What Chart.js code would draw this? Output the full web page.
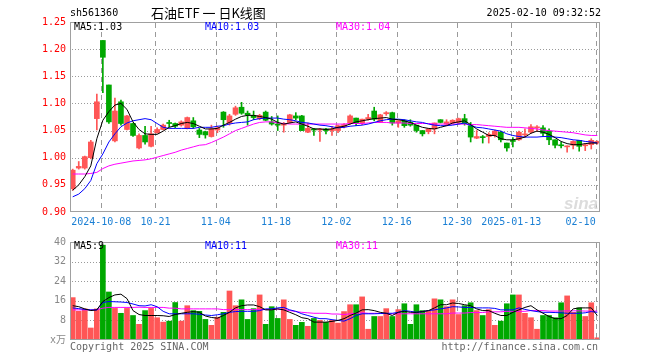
<!DOCTYPE html>
<html><head><meta charset="utf-8">
<script src="https://cdn.jsdelivr.net/npm/chart.js@4.4.1/dist/chart.umd.min.js"></script>
<style>
html,body{margin:0;padding:0;background:#fff;width:660px;height:360px;overflow:hidden}
canvas{position:absolute;left:0}
#pc{top:0}
#vc{top:232px}
</style></head><body>
<canvas id="pc" width="660" height="232"></canvas>
<canvas id="vc" width="660" height="128"></canvas>
<script>
// ---------- data ----------
const symbol = 'sh561360';
const title = '石油ETF 一 日K线图';
const stamp = '2025-02-10 09:32:52';
const tickIdx = [5,14,24,34,44,54,64,73,87];
const tickLabels = ['2024-10-08','10-21','11-04','11-18','12-02','12-16','12-30','2025-01-13','02-10'];
const priceTicks = [0.90,0.95,1.00,1.05,1.10,1.15,1.20,1.25];
const volTicks = [0,8,16,24,32,40];
const volUnit = 'x万';
const legendPrice = ['MA5:1.03','MA10:1.03','MA30:1.04'];
const legendVol = ['MA5:9','MA10:11','MA30:11'];

const opens = [0.943,0.981,0.981,1.000,1.072,1.216,1.134,1.031,1.103,1.052,
1.063,1.018,1.041,1.021,1.046,1.052,1.064,1.063,1.060,1.054,
1.068,1.051,1.048,1.039,1.051,1.084,1.064,1.080,1.093,1.082,
1.078,1.072,1.084,1.066,1.062,1.060,1.065,1.077,1.077,1.047,
1.053,1.051,1.053,1.050,1.050,1.057,1.064,1.073,1.064,1.071,
1.086,1.066,1.081,1.083,1.064,1.068,1.065,1.060,1.050,1.048,
1.053,1.070,1.062,1.064,1.065,1.072,1.059,1.036,1.038,1.039,
1.041,1.047,1.027,1.031,1.033,1.042,1.047,1.055,1.055,1.049,
1.033,1.023,1.020,1.023,1.032,1.022,1.024,1.027];
const highs = [0.979,0.993,1.003,1.032,1.117,1.216,1.134,1.110,1.106,1.078,
1.064,1.044,1.058,1.058,1.055,1.062,1.069,1.064,1.068,1.075,
1.074,1.054,1.049,1.060,1.058,1.085,1.080,1.095,1.102,1.086,
1.086,1.080,1.086,1.076,1.077,1.065,1.080,1.083,1.078,1.064,
1.054,1.054,1.054,1.058,1.060,1.063,1.079,1.073,1.071,1.080,
1.093,1.080,1.085,1.084,1.068,1.070,1.070,1.060,1.050,1.054,
1.064,1.070,1.070,1.070,1.073,1.080,1.065,1.050,1.041,1.046,
1.051,1.049,1.027,1.037,1.049,1.053,1.061,1.059,1.059,1.053,
1.033,1.029,1.022,1.031,1.032,1.026,1.035,1.031];
const lows = [0.940,0.979,0.979,0.998,1.051,1.120,1.063,1.029,1.060,1.051,
1.039,1.016,1.025,1.020,1.045,1.051,1.057,1.055,1.058,1.053,
1.054,1.037,1.036,1.038,1.046,1.056,1.060,1.078,1.080,1.060,
1.070,1.070,1.068,1.060,1.050,1.047,1.064,1.070,1.050,1.046,
1.041,1.030,1.044,1.041,1.046,1.055,1.062,1.059,1.061,1.069,
1.068,1.065,1.078,1.060,1.056,1.056,1.058,1.047,1.040,1.044,
1.044,1.064,1.060,1.062,1.062,1.060,1.029,1.035,1.027,1.027,
1.038,1.029,1.012,1.020,1.032,1.038,1.045,1.049,1.039,1.024,
1.018,1.018,1.010,1.016,1.012,1.013,1.016,1.025];
const closes = [0.977,0.984,1.002,1.029,1.103,1.185,1.066,1.086,1.063,1.077,
1.041,1.041,1.029,1.044,1.052,1.060,1.063,1.058,1.066,1.074,
1.057,1.043,1.042,1.053,1.055,1.070,1.077,1.092,1.082,1.079,
1.074,1.078,1.069,1.062,1.060,1.062,1.079,1.073,1.050,1.054,
1.051,1.053,1.050,1.053,1.059,1.061,1.077,1.064,1.071,1.074,
1.071,1.079,1.083,1.064,1.068,1.059,1.060,1.050,1.044,1.053,
1.064,1.065,1.066,1.069,1.072,1.063,1.038,1.039,1.037,1.043,
1.049,1.033,1.018,1.030,1.047,1.043,1.057,1.056,1.045,1.033,
1.023,1.022,1.021,1.030,1.021,1.023,1.032,1.030];
const ma5 = [0.940,0.950,0.965,0.985,1.035,1.069,1.085,1.097,1.100,1.089,
1.066,1.052,1.044,1.043,1.043,1.049,1.056,1.059,1.063,1.065,
1.063,1.058,1.053,1.053,1.054,1.060,1.065,1.071,1.076,1.078,
1.078,1.076,1.074,1.071,1.065,1.062,1.064,1.066,1.062,1.058,
1.053,1.053,1.052,1.053,1.056,1.058,1.062,1.066,1.068,1.070,
1.072,1.073,1.074,1.071,1.070,1.068,1.065,1.060,1.056,1.054,
1.053,1.056,1.059,1.064,1.066,1.068,1.061,1.053,1.047,1.041,
1.041,1.035,1.033,1.033,1.035,1.038,1.045,1.049,1.047,1.043,
1.037,1.030,1.026,1.024,1.024,1.026,1.027,1.027];
const ma10 = [0.928,0.933,0.943,0.958,0.989,1.007,1.029,1.044,1.057,1.064,
1.068,1.070,1.072,1.070,1.063,1.056,1.054,1.054,1.054,1.054,
1.054,1.056,1.056,1.056,1.058,1.059,1.062,1.064,1.065,1.066,
1.070,1.072,1.073,1.073,1.073,1.071,1.070,1.068,1.065,1.064,
1.062,1.060,1.059,1.057,1.055,1.056,1.058,1.059,1.060,1.062,
1.065,1.068,1.070,1.071,1.071,1.070,1.068,1.066,1.065,1.062,
1.060,1.059,1.059,1.060,1.062,1.064,1.059,1.056,1.055,1.053,
1.051,1.049,1.044,1.041,1.039,1.038,1.038,1.038,1.039,1.039,
1.038,1.037,1.035,1.033,1.032,1.030,1.029,1.027];
const ma30 = [0.970,0.970,0.970,0.971,0.973,0.980,0.985,0.988,0.990,0.992,
0.994,0.995,0.996,0.998,1.001,1.004,1.007,1.010,1.014,1.017,
1.020,1.023,1.024,1.028,1.033,1.038,1.044,1.050,1.054,1.058,
1.062,1.065,1.066,1.066,1.064,1.063,1.062,1.062,1.062,1.062,
1.062,1.062,1.062,1.062,1.062,1.062,1.063,1.063,1.063,1.064,
1.065,1.065,1.065,1.064,1.064,1.064,1.063,1.063,1.063,1.063,
1.062,1.062,1.062,1.062,1.062,1.062,1.061,1.061,1.060,1.059,
1.058,1.057,1.056,1.056,1.056,1.055,1.054,1.053,1.051,1.050,
1.049,1.048,1.047,1.046,1.044,1.042,1.041,1.041];
const vols = [17.3,11.7,12.7,4.9,12.7,38.7,19.6,12.9,10.9,12.9,
10.0,6.4,12.0,12.9,9.1,7.3,7.7,15.3,7.7,14.0,
12.0,11.7,8.4,6.0,9.3,11.3,20.0,14.0,16.4,8.4,
12.8,18.4,6.4,13.6,8.8,16.4,8.4,6.0,7.2,5.6,
8.8,8.0,7.2,8.0,6.9,11.6,14.4,14.4,17.6,4.4,
9.6,9.6,12.8,9.6,12.4,14.8,6.4,14.4,12.0,12.0,
16.8,16.4,13.6,16.4,10.4,14.0,15.2,12.0,10.0,12.4,
6.0,7.7,14.8,18.4,18.4,10.9,9.1,4.4,10.0,10.0,
9.1,15.2,18.0,11.3,13.1,9.6,15.2,0.9];
const vma5 = [14.0,13.6,12.7,12.0,12.3,15.7,17.3,18.4,18.7,16.9,
12.0,10.4,10.0,10.0,10.0,9.9,9.6,10.4,10.9,11.3,
11.6,11.3,9.8,9.2,8.9,10.0,11.3,13.1,14.0,14.3,
14.3,13.6,12.3,12.3,12.7,12.3,11.3,10.3,9.1,8.7,
7.3,7.3,7.3,7.6,8.0,8.7,10.0,11.0,12.3,12.4,
12.0,11.3,10.9,10.0,11.3,11.7,11.3,11.3,11.6,12.0,
13.1,14.4,14.4,15.1,14.9,14.4,14.0,12.7,12.0,12.0,
10.9,10.0,10.0,11.3,12.3,13.3,14.0,12.3,10.9,9.6,
8.7,8.7,10.0,12.7,13.1,13.1,13.1,10.0];
const vma10 = [13.1,12.8,12.5,12.3,12.3,15.3,15.7,15.6,15.5,15.3,
14.7,14.0,13.9,14.4,13.6,11.7,10.7,10.7,10.7,10.7,
10.7,10.5,10.2,10.0,10.3,10.7,11.3,11.6,11.7,11.7,
11.7,12.0,12.7,12.7,13.1,13.3,12.3,11.7,10.7,10.0,
9.3,8.7,8.7,8.3,8.0,7.7,8.7,10.0,10.7,10.7,
10.7,10.8,10.9,10.9,11.3,12.0,11.7,11.3,11.6,12.0,
12.3,12.7,13.1,13.6,13.5,13.3,13.3,13.1,13.1,13.1,
12.9,12.3,12.3,12.3,13.1,12.5,12.0,11.6,11.3,11.3,
11.2,11.1,10.9,10.9,10.9,11.1,11.6,11.3];
const vma30 = [12.3,12.3,12.3,12.3,12.3,13.0,13.3,13.3,13.3,13.3,
13.3,13.4,13.3,13.3,13.3,13.3,13.0,13.0,12.7,12.7,
12.7,12.7,12.7,12.7,12.7,12.4,12.4,12.4,12.4,12.4,
12.4,12.4,12.4,12.4,12.6,12.4,12.0,11.6,11.3,11.1,
10.9,10.9,10.9,10.6,10.6,10.4,10.7,10.9,11.1,10.9,
10.9,10.9,10.7,10.7,10.7,10.7,10.7,10.7,10.7,10.7,
10.7,10.7,10.7,11.0,11.0,11.0,11.2,11.2,11.2,11.5,
11.5,11.5,11.7,11.7,11.7,11.7,12.0,12.0,12.0,11.8,
11.8,11.8,11.9,11.9,11.9,11.8,11.8,11.8];

// ---------- style ----------
const RED = '#ff5656', GREEN = '#00a800';
const C5 = '#000000', C10 = '#0000ff', C30 = '#ff00ff';
const GRID = '#9a9a9a';
const MONO = "'DejaVu Sans Mono','Liberation Mono',monospace";
Chart.defaults.font.family = MONO;
Chart.defaults.font.size = 10;

const idx = opens.map((_, i) => i);
const colorOf = i => (closes[i] >= opens[i] ? RED : GREEN);
const pts = arr => arr.map((v, i) => ({x: i, y: v}));
const line = (arr, color) => ({type: 'line', data: pts(arr), borderColor: color, borderWidth: 1,
  pointRadius: 0, tension: 0, fill: false, order: 0});
// last label pushed left so that it ends at its tick, as in the original
const shownLabel = i => (i === tickLabels.length - 1 ? tickLabels[i] + '     ' : tickLabels[i]);
const X_SHIFT = -0.27;

function xScale(showLabels) {
  return {
    type: 'linear', min: -0.45, max: 87.45, bounds: 'data', offset: false,
    afterBuildTicks: s => { s.ticks = tickIdx.map(v => ({value: v + X_SHIFT})); },
    afterFit: s => { s.height = 20; },
    grid: {display: false, drawTicks: false, offset: false},
    border: {display: false},
    ticks: {display: showLabels, autoSkip: false, maxRotation: 0, padding: 4,
      color: '#1a7fd4', callback: (v, i) => shownLabel(i)}
  };
}

// grid (positions from the chart's scales), painted underneath what is already drawn; frame on top
function drawGrid(chart, yVals) {
  const ctx = chart.ctx;
  const a = chart.chartArea;
  const xs = chart.scales.x, ys = chart.scales.y;
  const L = Math.round(a.left), R = Math.round(a.right), T = Math.round(a.top), B = Math.round(a.bottom);
  ctx.save();
  ctx.globalCompositeOperation = 'destination-over';
  ctx.fillStyle = GRID;
  for (const v of yVals) {
    const y = Math.round(ys.getPixelForValue(v));
    if (!(y > T + 1 && y < B - 1)) continue;
    for (let x = L + 2; x < R - 1; x += 3) ctx.fillRect(x, y, 1, 1);
  }
  for (const v of tickIdx) {
    const x = Math.round(xs.getPixelForValue(v + X_SHIFT));
    if (!(x > L && x < R - 1)) continue;
    for (let y = T + 1; y < B - 1; y += 9) ctx.fillRect(x, y, 1, Math.min(5, B - 1 - y));
  }
  ctx.restore();
  ctx.save();
  ctx.strokeStyle = '#a0a0a0';
  ctx.lineWidth = 1;
  ctx.strokeRect(L + 0.5, T + 0.5, R - L - 1, B - T - 1);
  ctx.restore();
}

function drawLegend(ctx, texts, y) {
  const xs = [74, 205, 336];
  const cols = [C5, C10, C30];
  ctx.font = '10px ' + MONO;
  ctx.textBaseline = 'middle';
  ctx.textAlign = 'left';
  texts.forEach((t, k) => { ctx.fillStyle = cols[k]; ctx.fillText(t, xs[k], y); });
}

const pricePlugin = {
  id: 'priceDeco',
  afterDraw(chart) {
    const {ctx} = chart;
    ctx.save();
    ctx.globalCompositeOperation = 'destination-over';
    ctx.font = "italic bold 17px 'Liberation Sans', Arial, sans-serif";
    ctx.fillStyle = '#dcdcdc';
    ctx.textAlign = 'right';
    ctx.textBaseline = 'alphabetic';
    ctx.fillText('sina', 598, 209);
    ctx.restore();
    drawGrid(chart, priceTicks);
    ctx.save();
    ctx.fillStyle = '#000';
    ctx.textBaseline = 'middle';
    ctx.font = '10px ' + MONO;
    ctx.textAlign = 'left';
    ctx.fillText(symbol, 70, 13);
    ctx.font = "13px 'Noto Sans CJK SC', sans-serif";
    ctx.fillText(title, 151, 13);
    ctx.font = '10px ' + MONO;
    ctx.textAlign = 'right';
    ctx.fillText(stamp, 601, 13);
    drawLegend(ctx, legendPrice, 27);
    ctx.restore();
  }
};

const volPlugin = {
  id: 'volDeco',
  afterDraw(chart) {
    drawGrid(chart, volTicks);
    const {ctx} = chart;
    ctx.save();
    drawLegend(ctx, legendVol, 14);
    ctx.fillStyle = '#666';
    ctx.font = '10px ' + MONO;
    ctx.textBaseline = 'middle';
    ctx.textAlign = 'left';
    ctx.fillText('Copyright 2025 SINA.COM', 70, 115);
    ctx.textAlign = 'right';
    ctx.fillText('http://finance.sina.com.cn', 598, 115);
    ctx.restore();
  }
};

new Chart(document.getElementById('pc'), {
  type: 'bar',
  data: {datasets: [
    line(ma5, C5), line(ma10, C10), line(ma30, C30),
    {type: 'bar', data: idx.map(i => ({x: i, y: [opens[i], closes[i]]})),
      backgroundColor: idx.map(colorOf), borderWidth: 0, barThickness: 5,
      grouped: false, minBarLength: 1, order: 5},
    {type: 'bar', data: idx.map(i => ({x: i, y: [lows[i], highs[i]]})),
      backgroundColor: idx.map(colorOf), borderWidth: 0, barThickness: 1,
      grouped: false, minBarLength: 1, order: 6}
  ]},
  options: {
    responsive: false, animation: false, devicePixelRatio: 1,
    layout: {padding: {left: 0, right: 60, top: 22, bottom: 0}},
    plugins: {legend: {display: false}, tooltip: {enabled: false}},
    scales: {
      x: xScale(true),
      y: {min: 0.9, max: 1.25, bounds: 'data',
        afterBuildTicks: s => { s.ticks = priceTicks.map(v => ({value: v})); },
        afterFit: s => { s.width = 70; },
        grid: {display: false, drawTicks: false},
        border: {display: false},
        ticks: {color: '#ff0000', padding: 4, callback: v => Number(v).toFixed(2)}}
    }
  },
  plugins: [pricePlugin]
});

new Chart(document.getElementById('vc'), {
  type: 'bar',
  data: {datasets: [
    line(vma5, C5), line(vma10, C10), line(vma30, C30),
    {type: 'bar', data: idx.map(i => ({x: i, y: vols[i]})),
      backgroundColor: idx.map(colorOf), borderWidth: 0, barThickness: 5,
      grouped: false, order: 5}
  ]},
  options: {
    responsive: false, animation: false, devicePixelRatio: 1,
    layout: {padding: {left: 0, right: 60, top: 8, bottom: 0}},
    plugins: {legend: {display: false}, tooltip: {enabled: false}},
    scales: {
      x: xScale(false),
      y: {min: 0, max: 40, bounds: 'data',
        afterBuildTicks: s => { s.ticks = volTicks.map(v => ({value: v})); },
        afterFit: s => { s.width = 70; },
        grid: {display: false, drawTicks: false},
        border: {display: false},
        ticks: {color: '#888888', padding: 4,
          font: {family: "'DejaVu Sans Mono','Noto Sans CJK SC',monospace", size: 10},
          callback: v => (v === 0 ? volUnit : String(v))}}
    }
  },
  plugins: [volPlugin]
});
</script>
</body></html>
